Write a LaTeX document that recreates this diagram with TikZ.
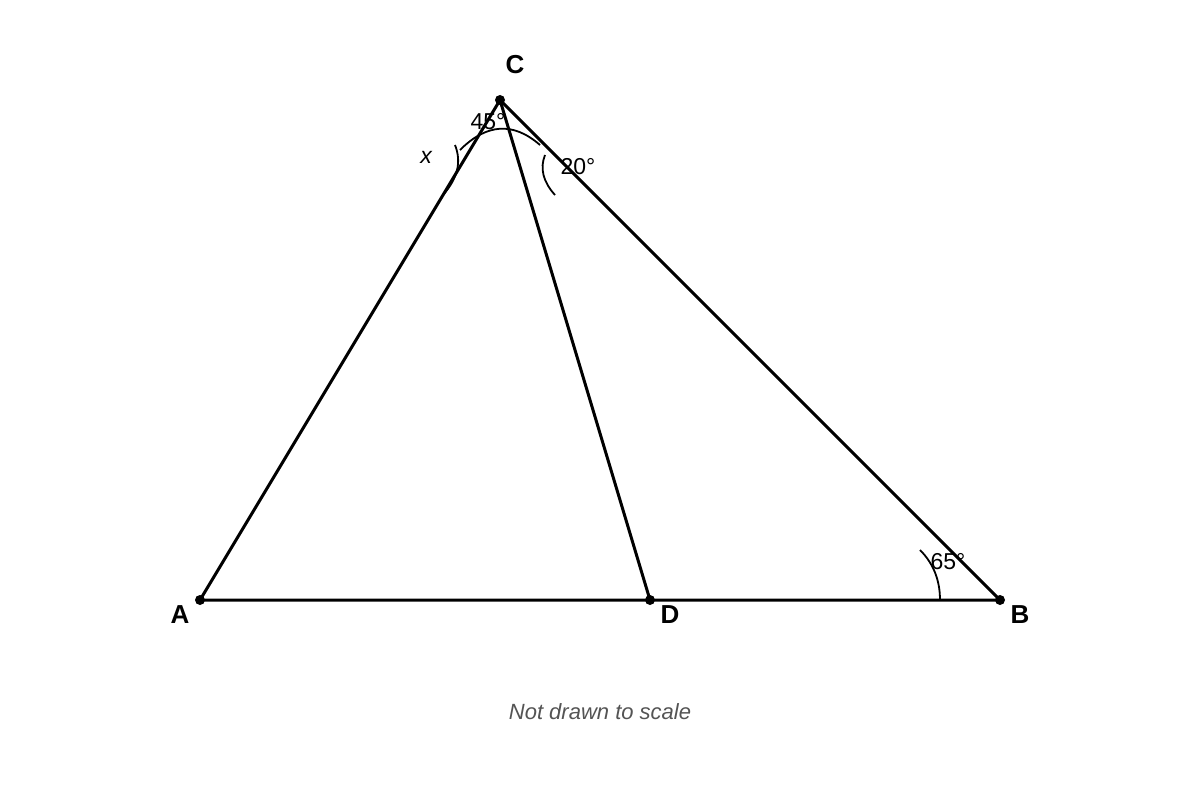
\documentclass[tikz,border=0pt]{standalone}
\usepackage{fontspec}
\setmainfont{Liberation Sans}
\begin{document}
\begin{tikzpicture}[x=1pt,y=-1pt,
  seg/.style={line width=3pt},
  anglearc/.style={line width=1.8pt},
  dot/.style={circle,fill=black,inner sep=0pt,minimum size=10pt},
  ptlabel/.style={font=\fontsize{26pt}{30pt}\selectfont\bfseries,inner sep=0pt},
  anglabel/.style={font=\fontsize{23pt}{27pt}\selectfont,inner sep=0pt},
  caption/.style={font=\fontsize{22pt}{26pt}\selectfont\itshape,text=black!67,inner sep=0pt}]
\useasboundingbox (0,0) rectangle (1200,800);
\fill[white] (0,0) rectangle (1200,800);
\coordinate (A) at (200,600);
\coordinate (B) at (1000,600);
\coordinate (C) at (500,100);
\coordinate (D) at (650,600);
\draw[seg] (A) -- (D) -- (B) -- (C) -- cycle;
\draw[seg] (C) -- (D);
\node[dot] (dA) at (A) {};
\node[dot] (dB) at (B) {};
\node[dot] (dC) at (C) {};
\node[dot] (dD) at (D) {};
% angle arcs
\coordinate (a1s) at (460,150); \coordinate (a1e) at (540,145);
\draw[anglearc] (a1s) .. controls (486.7,123.3) and (513.3,121.7) .. (a1e);
\coordinate (a2s) at (455,145); \coordinate (a2e) at (443,195);
\draw[anglearc] (a2s) .. controls (461.7,161.7) and (457.7,178.3) .. (a2e);
\coordinate (a3s) at (545,155); \coordinate (a3e) at (555,195);
\draw[anglearc] (a3s) .. controls (539.7,168.3) and (543,181.7) .. (a3e);
\coordinate (a4s) at (920,550); \coordinate (a4e) at (940,600);
\draw[anglearc] (a4s) .. controls (933.3,563.3) and (940,580) .. (a4e);
% labels
\node[ptlabel] (lC) at (515,65) {C};
\node[ptlabel] (lA) at (180,615) {A};
\node[ptlabel] (lD) at (670,615) {D};
\node[ptlabel] (lB) at (1020,615) {B};
\node[anglabel] (l45) at (488,122) {45°};
\node[anglabel] (l20) at (578,167) {20°};
\node[anglabel] (l65) at (948,562) {65°};
\node[anglabel,font=\fontsize{23pt}{27pt}\selectfont\itshape] (lx) at (426,157) {x};
\node[caption] (cap) at (600,712) {Not drawn to scale};
\end{tikzpicture}
\end{document}
